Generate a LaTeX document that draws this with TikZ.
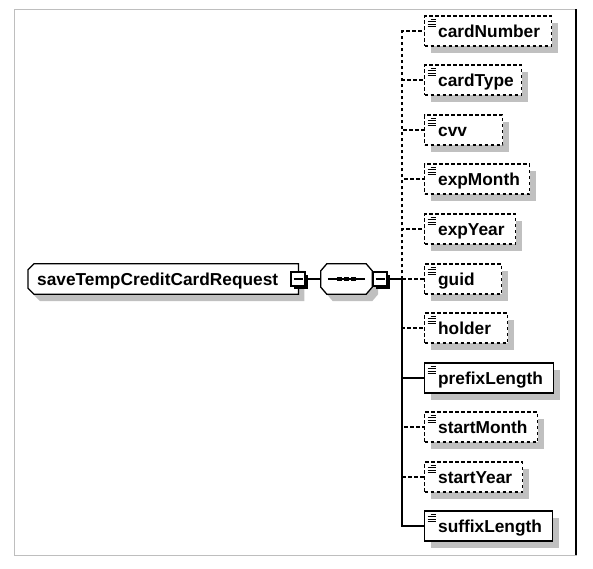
\documentclass[tikz,border=0pt]{standalone}
\usepackage{fontspec}
\setmainfont{Liberation Sans}
\usetikzlibrary{shadows}
\definecolor{shadowgray}{RGB}{192,192,192}
\definecolor{framegray}{RGB}{190,190,190}
\newcommand\elemfont{\fontsize{17.3}{20}\selectfont\bfseries}
\pgfdeclarelayer{background}
\pgfsetlayers{background,main}

\begin{document}
\begin{tikzpicture}[x=1pt, y=-1pt,
    eshadow/.style={drop shadow={draw=none, fill=shadowgray, opacity=1, shadow xshift=6pt, shadow yshift=-7pt}},
    txt/.style={anchor=west, inner xsep=0pt, inner ysep=0pt, minimum height=30pt, text height=15pt, text depth=3pt, align=left, font=\elemfont, text width=#1},
    icon/.style={solid, line width=0.9pt},
    elem/.style={txt=#1, draw, fill=white, line width=1.3pt, eshadow, execute at begin node=\hspace*{13.5pt},
        path picture={
            \draw[icon] ([xshift=6pt,yshift=-3pt]path picture bounding box.north west) -- +(5,0);
            \draw[icon] ([xshift=3pt,yshift=-5.5pt]path picture bounding box.north west) -- +(8,0);
            \draw[icon] ([xshift=3pt,yshift=-8pt]path picture bounding box.north west) -- +(8,0);
            \draw[icon] ([xshift=3pt,yshift=-10.5pt]path picture bounding box.north west) -- +(8,0);
        }},
    opt/.style={elem=#1, dash pattern=on 3.5pt off 2.5pt},
    req/.style={elem=#1},
    expbox/.style={draw, fill=white, line width=1.2pt, minimum size=14pt, inner sep=0pt,
        drop shadow={draw=none, fill=black, opacity=1, shadow xshift=2.5pt, shadow yshift=-2.5pt}},
    outline/.style={draw, fill=white, line width=1.3pt, eshadow},
    conn/.style={line width=1.2pt},
    optconn/.style={conn, dash pattern=on 3.5pt off 2.5pt}]
    \useasboundingbox (0,0) rectangle (593,568);
    % frame
    \draw[framegray, line width=1pt] (14,9) rectangle (576,555);
    \draw[line width=1.6pt] (576,9) -- (576,555);

    % root element
    \node[txt=270pt, execute at begin node=\hspace*{9pt}] (root) at (28,279) {saveTempCreditCardRequest};
    \begin{pgfonlayer}{background}
        \draw[outline] ([xshift=6pt]root.north west) -- (root.north east) -- (root.south east) -- ([xshift=6pt]root.south west) -- ([yshift=6pt]root.south west) -- ([yshift=-6pt]root.north west) -- cycle;
    \end{pgfonlayer}
    \node[expbox] (rootexp) at (298,279) {\rule{9pt}{1.3pt}};

    % sequence
    \node[minimum width=51pt, minimum height=30pt, inner sep=0pt] (seq) at (346.5,279) {};
    \begin{pgfonlayer}{background}
        \draw[outline] ([xshift=6pt]seq.north west) -- ([xshift=-6pt]seq.north east) -- ([yshift=-7pt]seq.north east) -- ([yshift=7pt]seq.south east) -- ([xshift=-6pt]seq.south east) -- ([xshift=6pt]seq.south west) -- ([yshift=7pt]seq.south west) -- ([yshift=-7pt]seq.north west) -- cycle;
    \end{pgfonlayer}
    \draw[conn] ([xshift=7pt]seq.west) -- ([xshift=-7pt]seq.east);
    \fill ([xshift=-9.5pt,yshift=2pt]seq.center) rectangle +(5,4);
    \fill ([xshift=-2.5pt,yshift=2pt]seq.center) rectangle +(5,4);
    \fill ([xshift=4.5pt,yshift=2pt]seq.center) rectangle +(5,4);
    \node[expbox] (seqexp) at (380,279) {\rule{9pt}{1.3pt}};
    \coordinate (jct) at (402,279);

    % children
    \node[opt=127pt] (cardNumber) at (424,31) {cardNumber};
    \node[opt=97pt] (cardType) at (424,80) {cardType};
    \node[opt=78pt] (cvv) at (424,130) {cvv};
    \node[opt=105pt] (expMonth) at (424,179) {expMonth};
    \node[opt=91pt] (expYear) at (424,229) {expYear};
    \node[opt=77pt] (guid) at (424,279) {guid};
    \node[opt=83pt] (holder) at (424,328) {holder};
    \node[req=129pt] (prefixLength) at (424,378) {prefixLength};
    \node[opt=113pt] (startMonth) at (424,427) {startMonth};
    \node[opt=98pt] (startYear) at (424,477) {startYear};
    \node[req=128pt] (suffixLength) at (424,526) {suffixLength};

    % connectors
    \draw[conn] (rootexp.east) -- (seq.west);
    \draw[conn] (seqexp.east) -- (jct);
    \draw[optconn] (jct) |- (cardNumber.west);
    \draw[optconn] (jct) |- (cardType.west);
    \draw[optconn] (jct) |- (cvv.west);
    \draw[optconn] (jct) |- (expMonth.west);
    \draw[optconn] (jct) |- (expYear.west);
    \draw[optconn] (jct) |- (guid.west);
    \draw[optconn] (jct) |- (holder.west);
    \draw[optconn] (jct) |- (startMonth.west);
    \draw[optconn] (jct) |- (startYear.west);
    \draw[conn] (jct) |- (prefixLength.west);
    \draw[conn] (jct) |- (suffixLength.west);
\end{tikzpicture}
\end{document}
